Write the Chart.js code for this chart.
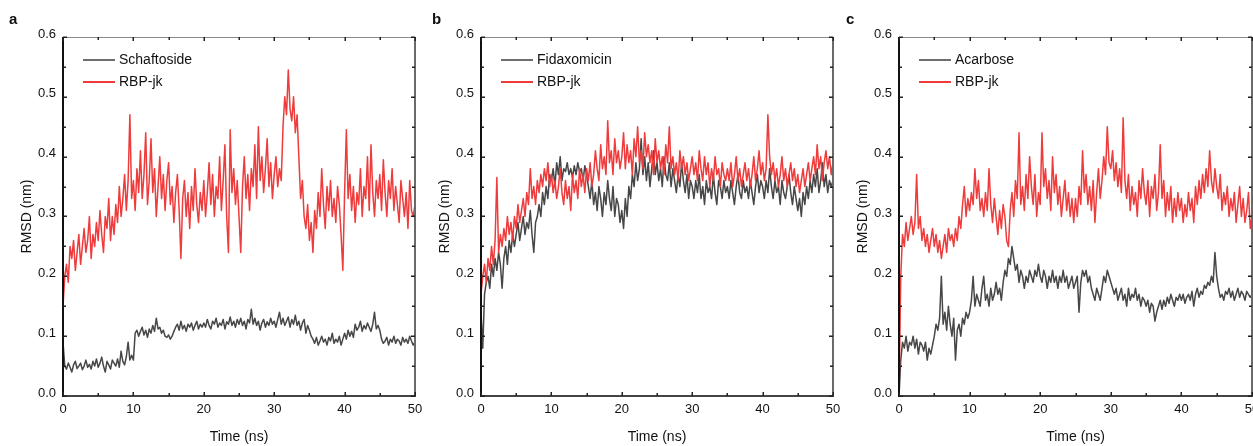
<!DOCTYPE html>
<html lang="en">
<head>
  <meta charset="UTF-8" />
  <title>RMSD</title>
  <script src="https://cdn.jsdelivr.net/npm/chart.js"></script>
  <style>
    body { margin: 0; background: #fff; }
    canvas { position: absolute; top: 0; }
  </style>
</head>
<body>
  <canvas id="chartA" style="left:0px" width="430" height="446"></canvas>
  <canvas id="chartB" style="left:420px" width="430" height="446"></canvas>
  <canvas id="chartC" style="left:840px" width="413" height="446"></canvas>

  <script>
    // sampling step of every trace (ns), x ticks and y ticks
    const dt = 0.25;
    const timeTicks = [0, 10, 20, 30, 40, 50];
    const rmsdTicks = [0, 0.1, 0.2, 0.3, 0.4, 0.5, 0.6];

    // panel a
    const schaftoside = [
      0.09,0.05,0.045,0.055,0.048,0.04,0.052,0.058,0.046,0.05,0.055,0.044,0.05,0.06,0.048,0.053,0.045,0.058,0.05,0.062,
      0.048,0.055,0.065,0.05,0.04,0.058,0.052,0.045,0.06,0.055,0.05,0.062,0.048,0.075,0.058,0.052,0.066,0.09,0.06,0.068,
      0.06,0.105,0.11,0.1,0.108,0.115,0.102,0.11,0.098,0.112,0.105,0.118,0.108,0.13,0.112,0.115,0.105,0.11,0.1,0.098,
      0.102,0.095,0.1,0.108,0.115,0.12,0.11,0.125,0.112,0.118,0.108,0.12,0.115,0.122,0.11,0.118,0.125,0.112,0.12,0.115,
      0.122,0.115,0.128,0.118,0.112,0.125,0.12,0.13,0.115,0.122,0.118,0.128,0.112,0.124,0.12,0.132,0.118,0.125,0.115,0.128,
      0.12,0.13,0.118,0.125,0.112,0.128,0.122,0.145,0.12,0.13,0.118,0.125,0.11,0.122,0.128,0.115,0.124,0.118,0.13,0.12,
      0.125,0.115,0.128,0.14,0.12,0.13,0.118,0.125,0.132,0.115,0.128,0.12,0.135,0.118,0.125,0.11,0.122,0.128,0.105,0.118,
      0.11,0.1,0.095,0.088,0.098,0.085,0.092,0.1,0.09,0.095,0.085,0.098,0.092,0.105,0.088,0.095,0.09,0.1,0.085,0.095,
      0.105,0.095,0.11,0.1,0.108,0.098,0.12,0.11,0.115,0.125,0.108,0.118,0.112,0.122,0.115,0.108,0.12,0.14,0.112,0.118,
      0.11,0.095,0.088,0.092,0.098,0.085,0.095,0.09,0.1,0.088,0.095,0.092,0.085,0.098,0.09,0.095,0.088,0.1,0.092,0.085,
      0.09
    ];
    const rbpA = [
      0.15,0.2,0.22,0.19,0.25,0.23,0.26,0.21,0.24,0.27,0.22,0.25,0.28,0.24,0.26,0.3,0.23,0.27,0.25,0.29,
      0.26,0.31,0.27,0.24,0.3,0.28,0.33,0.26,0.3,0.27,0.32,0.29,0.35,0.3,0.33,0.37,0.31,0.36,0.47,0.33,
      0.36,0.31,0.38,0.34,0.41,0.33,0.37,0.44,0.32,0.36,0.43,0.34,0.38,0.3,0.35,0.4,0.33,0.37,0.31,0.36,
      0.39,0.32,0.35,0.29,0.34,0.37,0.31,0.23,0.33,0.36,0.3,0.34,0.28,0.35,0.31,0.38,0.32,0.29,0.34,0.31,
      0.36,0.3,0.34,0.39,0.32,0.37,0.3,0.35,0.33,0.4,0.31,0.36,0.42,0.3,0.24,0.445,0.34,0.38,0.32,0.36,
      0.3,0.24,0.35,0.4,0.33,0.37,0.31,0.38,0.35,0.42,0.33,0.45,0.36,0.4,0.34,0.38,0.43,0.35,0.39,0.33,
      0.37,0.4,0.35,0.38,0.36,0.45,0.5,0.47,0.545,0.48,0.46,0.5,0.44,0.47,0.4,0.33,0.36,0.3,0.28,0.32,
      0.26,0.29,0.24,0.31,0.28,0.34,0.3,0.38,0.32,0.28,0.35,0.31,0.36,0.3,0.33,0.29,0.35,0.32,0.27,0.21,
      0.34,0.445,0.33,0.37,0.31,0.35,0.29,0.34,0.32,0.38,0.3,0.35,0.33,0.4,0.31,0.42,0.34,0.3,0.36,0.33,
      0.37,0.31,0.395,0.34,0.3,0.36,0.33,0.38,0.31,0.35,0.32,0.29,0.36,0.33,0.3,0.34,0.28,0.36,0.31,0.3,
      0.32
    ];

    // panel b
    const fidaxomicin = [
      0.14,0.08,0.17,0.19,0.2,0.18,0.22,0.2,0.23,0.21,0.24,0.22,0.18,0.23,0.25,0.22,0.26,0.24,0.27,0.25,
      0.27,0.29,0.26,0.28,0.3,0.27,0.29,0.28,0.31,0.27,0.24,0.29,0.3,0.32,0.3,0.34,0.32,0.35,0.33,0.37,
      0.36,0.38,0.35,0.39,0.37,0.4,0.36,0.38,0.375,0.39,0.37,0.38,0.365,0.385,0.37,0.39,0.375,0.38,0.36,0.385,
      0.37,0.35,0.33,0.36,0.32,0.34,0.31,0.35,0.33,0.3,0.34,0.32,0.36,0.33,0.31,0.35,0.3,0.33,0.32,0.29,
      0.31,0.28,0.33,0.3,0.35,0.33,0.37,0.35,0.39,0.36,0.38,0.43,0.37,0.4,0.36,0.39,0.35,0.38,0.41,0.37,
      0.39,0.36,0.38,0.35,0.4,0.37,0.36,0.39,0.35,0.38,0.36,0.34,0.37,0.35,0.39,0.36,0.34,0.37,0.33,0.36,
      0.35,0.33,0.36,0.34,0.37,0.33,0.35,0.32,0.36,0.34,0.35,0.33,0.37,0.34,0.32,0.36,0.35,0.33,0.36,0.34,
      0.35,0.33,0.36,0.34,0.32,0.35,0.37,0.34,0.33,0.36,0.34,0.35,0.33,0.36,0.34,0.32,0.35,0.37,0.34,0.36,
      0.35,0.33,0.36,0.34,0.38,0.35,0.33,0.36,0.34,0.35,0.32,0.36,0.34,0.33,0.35,0.37,0.34,0.32,0.35,0.33,
      0.31,0.33,0.3,0.34,0.32,0.35,0.33,0.36,0.34,0.37,0.35,0.38,0.34,0.36,0.39,0.35,0.37,0.34,0.36,0.35,
      0.36
    ];
    const rbpB = [
      0.17,0.2,0.22,0.19,0.23,0.21,0.25,0.22,0.26,0.365,0.24,0.27,0.25,0.28,0.26,0.3,0.27,0.29,0.26,0.3,
      0.28,0.32,0.29,0.31,0.33,0.3,0.34,0.32,0.38,0.33,0.35,0.32,0.36,0.34,0.37,0.35,0.38,0.36,0.39,0.35,
      0.37,0.34,0.36,0.33,0.35,0.38,0.34,0.32,0.36,0.33,0.35,0.31,0.37,0.34,0.36,0.33,0.38,0.35,0.37,0.34,
      0.38,0.36,0.39,0.35,0.37,0.41,0.38,0.36,0.42,0.38,0.4,0.37,0.46,0.39,0.41,0.37,0.43,0.39,0.41,0.38,
      0.4,0.44,0.38,0.42,0.39,0.41,0.37,0.43,0.4,0.45,0.39,0.41,0.38,0.44,0.4,0.42,0.39,0.41,0.37,0.43,
      0.39,0.41,0.38,0.4,0.37,0.42,0.39,0.45,0.38,0.4,0.37,0.39,0.36,0.41,0.38,0.4,0.37,0.39,0.36,0.38,
      0.4,0.37,0.39,0.36,0.41,0.38,0.36,0.4,0.37,0.39,0.35,0.38,0.36,0.4,0.37,0.38,0.35,0.39,0.37,0.36,
      0.38,0.36,0.39,0.35,0.37,0.4,0.36,0.38,0.35,0.37,0.39,0.36,0.38,0.35,0.37,0.4,0.36,0.38,0.41,0.37,
      0.39,0.36,0.38,0.47,0.4,0.37,0.39,0.36,0.38,0.35,0.37,0.4,0.36,0.38,0.35,0.37,0.39,0.36,0.38,0.35,
      0.37,0.34,0.36,0.38,0.35,0.37,0.39,0.36,0.38,0.4,0.37,0.42,0.38,0.4,0.36,0.39,0.41,0.38,0.4,0.37,
      0.39
    ];

    // panel c
    const acarbose = [
      0.0,0.06,0.09,0.08,0.1,0.075,0.09,0.085,0.1,0.08,0.095,0.07,0.09,0.085,0.075,0.09,0.06,0.08,0.07,0.085,
      0.1,0.12,0.11,0.13,0.2,0.12,0.14,0.11,0.15,0.12,0.1,0.13,0.06,0.11,0.12,0.1,0.13,0.12,0.14,0.13,
      0.14,0.16,0.2,0.15,0.17,0.16,0.15,0.18,0.2,0.16,0.17,0.15,0.18,0.16,0.17,0.19,0.17,0.18,0.16,0.19,
      0.21,0.2,0.23,0.22,0.25,0.23,0.21,0.22,0.19,0.21,0.2,0.18,0.2,0.19,0.21,0.2,0.19,0.21,0.2,0.22,
      0.2,0.19,0.21,0.2,0.18,0.2,0.19,0.21,0.19,0.2,0.18,0.2,0.19,0.21,0.19,0.2,0.18,0.19,0.2,0.18,
      0.19,0.2,0.14,0.19,0.21,0.2,0.21,0.19,0.2,0.18,0.17,0.16,0.18,0.17,0.16,0.18,0.2,0.19,0.21,0.2,
      0.19,0.18,0.17,0.18,0.16,0.17,0.18,0.16,0.17,0.15,0.18,0.16,0.17,0.165,0.18,0.16,0.17,0.15,0.165,0.16,
      0.15,0.16,0.14,0.155,0.15,0.125,0.14,0.15,0.16,0.145,0.16,0.15,0.165,0.155,0.17,0.16,0.15,0.165,0.16,0.17,
      0.16,0.17,0.155,0.165,0.17,0.16,0.175,0.15,0.17,0.18,0.165,0.175,0.17,0.185,0.18,0.19,0.185,0.2,0.19,0.24,
      0.2,0.18,0.165,0.17,0.16,0.175,0.17,0.18,0.165,0.175,0.16,0.17,0.18,0.165,0.175,0.17,0.16,0.175,0.17,0.165,
      0.17
    ];
    const rbpC = [
      0.0,0.2,0.27,0.25,0.29,0.26,0.28,0.3,0.27,0.29,0.37,0.28,0.3,0.26,0.28,0.25,0.27,0.24,0.26,0.28,
      0.25,0.27,0.24,0.26,0.23,0.25,0.27,0.24,0.28,0.26,0.27,0.25,0.28,0.26,0.3,0.28,0.32,0.35,0.3,0.33,
      0.31,0.34,0.32,0.38,0.33,0.36,0.31,0.33,0.3,0.34,0.31,0.38,0.32,0.29,0.33,0.3,0.27,0.31,0.28,0.32,
      0.3,0.26,0.25,0.31,0.34,0.3,0.36,0.33,0.44,0.32,0.35,0.31,0.37,0.33,0.4,0.35,0.32,0.37,0.3,0.34,
      0.32,0.44,0.35,0.38,0.33,0.36,0.31,0.4,0.34,0.37,0.32,0.35,0.3,0.33,0.36,0.31,0.34,0.3,0.33,0.29,
      0.33,0.3,0.35,0.32,0.41,0.34,0.37,0.32,0.35,0.31,0.36,0.29,0.34,0.38,0.33,0.36,0.4,0.37,0.45,0.39,
      0.38,0.41,0.36,0.39,0.35,0.38,0.34,0.465,0.36,0.33,0.37,0.31,0.35,0.32,0.34,0.3,0.36,0.33,0.38,0.34,
      0.32,0.36,0.3,0.35,0.33,0.37,0.31,0.34,0.42,0.33,0.36,0.3,0.34,0.31,0.35,0.29,0.33,0.3,0.34,0.31,
      0.33,0.29,0.32,0.3,0.34,0.31,0.33,0.29,0.35,0.32,0.36,0.33,0.37,0.34,0.38,0.35,0.41,0.36,0.34,0.38,
      0.35,0.33,0.37,0.31,0.34,0.32,0.35,0.3,0.33,0.31,0.34,0.29,0.32,0.35,0.3,0.33,0.29,0.31,0.34,0.28,
      0.3
    ];

    const FONT = '"Liberation Sans", Arial, sans-serif';
    const GREY = '#474747';
    const RED = '#ef3b3b';

    // frame, inward ticks, inside legend, axis titles and panel letter
    const framePlugin = {
      id: 'frame',
      afterDraw(chart, args, opts) {
        const { ctx, chartArea: a, scales: { x, y } } = chart;
        ctx.save();

        ctx.lineWidth = 1;
        ctx.strokeStyle = '#8a8a8a';
        ctx.beginPath(); ctx.moveTo(a.left, a.top + 0.5); ctx.lineTo(a.right, a.top + 0.5); ctx.stroke();
        ctx.lineWidth = 2;
        ctx.strokeStyle = '#6a6a6a';
        ctx.beginPath(); ctx.moveTo(a.right, a.top); ctx.lineTo(a.right, a.bottom); ctx.stroke();
        ctx.strokeStyle = '#444';
        ctx.beginPath(); ctx.moveTo(a.left, a.bottom); ctx.lineTo(a.right + 1, a.bottom); ctx.stroke();
        ctx.strokeStyle = '#111';
        ctx.beginPath(); ctx.moveTo(a.left, a.top); ctx.lineTo(a.left, a.bottom + 1); ctx.stroke();

        ctx.lineWidth = 1.5;
        ctx.strokeStyle = '#222';
        for (let i = 0; i <= 10; i++) {
          const px = Math.round(x.getPixelForValue(i * 5)) + 0.25;
          const len = i % 2 === 0 ? 4 : 3;
          ctx.beginPath();
          ctx.moveTo(px, a.bottom); ctx.lineTo(px, a.bottom - len);
          ctx.moveTo(px, a.top); ctx.lineTo(px, a.top + len);
          ctx.stroke();
        }
        for (let i = 0; i <= 12; i++) {
          const py = Math.round(y.getPixelForValue(i * 0.05)) + 0.25;
          const len = i % 2 === 0 ? 4 : 3;
          ctx.beginPath();
          ctx.moveTo(a.left, py); ctx.lineTo(a.left + len, py);
          ctx.moveTo(a.right, py); ctx.lineTo(a.right - len, py);
          ctx.stroke();
        }

        // legend
        ctx.font = '14px ' + FONT;
        ctx.textBaseline = 'middle';
        ctx.textAlign = 'left';
        chart.data.datasets.forEach((ds, i) => {
          const ly = a.top + 23 + i * 22;
          ctx.strokeStyle = i === 0 ? '#6e6e6e' : ds.borderColor;
          ctx.lineWidth = 2;
          ctx.beginPath(); ctx.moveTo(a.left + 20, ly); ctx.lineTo(a.left + 52, ly); ctx.stroke();
          ctx.fillStyle = '#111';
          ctx.fillText(ds.label, a.left + 56, ly);
        });

        // axis titles
        ctx.textAlign = 'center';
        ctx.fillText('Time (ns)', (a.left + a.right) / 2, 437);
        ctx.save();
        ctx.translate(a.left - 36, (a.top + a.bottom) / 2);
        ctx.rotate(-Math.PI / 2);
        ctx.fillText('RMSD (nm)', 0, 0);
        ctx.restore();

        // panel letter
        ctx.font = 'bold 15px ' + FONT;
        ctx.textAlign = 'left';
        ctx.fillText(opts.letter, opts.letterX, 20);
        ctx.restore();
      }
    };

    function makeChart(id, letter, letterX, ligand, ligandData, rbpData, yWidth, padRight) {
      const pts = arr => arr.map((v, i) => ({ x: i * dt, y: v }));
      return new Chart(document.getElementById(id), {
        type: 'line',
        data: {
          datasets: [
            { label: ligand, data: pts(ligandData), borderColor: GREY, borderWidth: 1.5, order: 2 },
            { label: 'RBP-jk', data: pts(rbpData), borderColor: RED, borderWidth: 1.5, order: 1 }
          ]
        },
        options: {
          responsive: false,
          animation: false,
          events: [],
          elements: {
            point: { radius: 0 },
            line: { tension: 0, borderJoinStyle: 'round' }
          },
          layout: { padding: { top: 37, right: padRight, bottom: 0, left: 0 } },
          plugins: {
            legend: { display: false },
            tooltip: { enabled: false },
            frame: { letter: letter, letterX: letterX }
          },
          scales: {
            x: {
              type: 'linear', min: 0, max: 50,
              border: { display: false },
              grid: { display: false, drawTicks: false },
              afterBuildTicks: s => { s.ticks = timeTicks.map(v => ({ value: v })); },
              ticks: { padding: 6, color: '#111', maxRotation: 0, font: { family: FONT, size: 13 } },
              afterFit: s => { s.height = 50; s.paddingLeft = 0; s.paddingRight = 0; }
            },
            y: {
              min: 0, max: 0.6,
              border: { display: false },
              grid: { display: false, drawTicks: false },
              afterBuildTicks: s => { s.ticks = rmsdTicks.map(v => ({ value: v })); },
              ticks: {
                padding: 7, color: '#111', labelOffset: -3,
                font: { family: FONT, size: 13 },
                callback: v => Number(v).toFixed(1)
              },
              afterFit: s => { s.width = yWidth; s.paddingTop = 0; s.paddingBottom = 0; }
            }
          }
        },
        plugins: [framePlugin]
      });
    }

    makeChart('chartA', 'a', 9, 'Schaftoside', schaftoside, rbpA, 63, 15);
    makeChart('chartB', 'b', 12, 'Fidaxomicin', fidaxomicin, rbpB, 61, 17);
    makeChart('chartC', 'c', 6, 'Acarbose', acarbose, rbpC, 59, 1);
  </script>
</body>
</html>
